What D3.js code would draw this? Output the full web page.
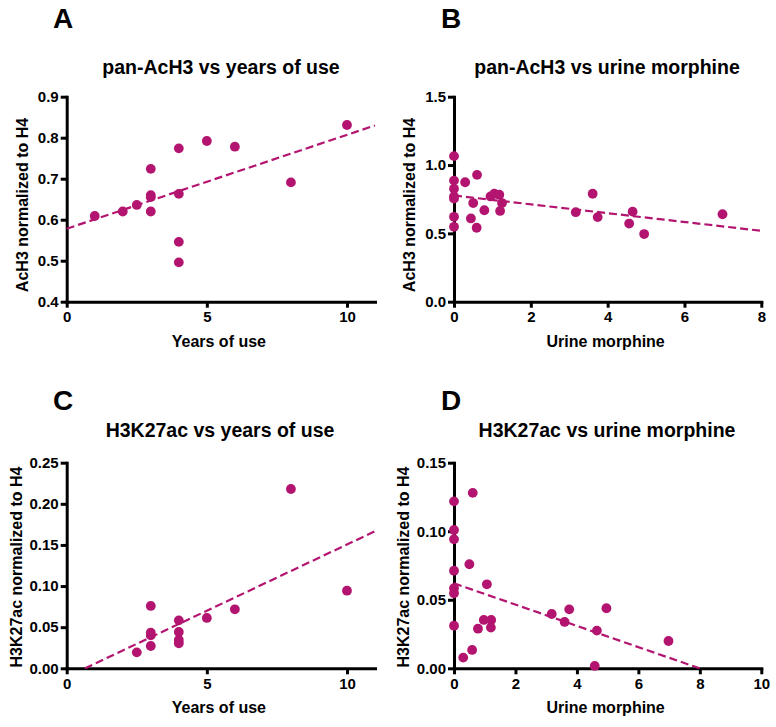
<!DOCTYPE html>
<html>
<head>
<meta charset="utf-8">
<script src="https://cdn.jsdelivr.net/npm/d3@7"></script>
<style>
  html, body { margin: 0; padding: 0; background: #fff; }
  svg { display: block; font-family: "Liberation Sans", Arial, sans-serif; }
  .tick text { font-weight: bold; font-size: 15px; fill: #000; }
</style>
</head>
<body>
<svg id="chart" width="776" height="727"></svg>
<script>
// ---------- DATA ----------
// Panel A: pan-AcH3 vs years of use
const yearsA = [1, 2, 2.5, 3, 3, 3, 3, 4, 4, 4, 4, 5, 6, 8, 10];
const acH3A  = [0.609, 0.620, 0.636, 0.724, 0.660, 0.655, 0.620, 0.774, 0.663, 0.546, 0.496, 0.792, 0.778, 0.691, 0.831];
const fitA   = [0.578, 0.0229];           // intercept, slope

// Panel B: pan-AcH3 vs urine morphine
const morphB = [0, 0, 0, 0, 0, 0, 0, 0.29, 0.60, 0.50, 0.44, 0.59, 0.79, 0.95, 1.05, 1.18, 1.25, 1.20, 3.17, 3.61, 3.74, 4.56, 4.65, 4.95, 6.99];
const acH3B  = [1.065, 0.886, 0.826, 0.770, 0.754, 0.621, 0.548, 0.874, 0.928, 0.722, 0.609, 0.541, 0.669, 0.770, 0.790, 0.783, 0.722, 0.664, 0.655, 0.790, 0.619, 0.572, 0.659, 0.495, 0.640];
const fitB   = [0.777, -0.0323];

// Panel C: H3K27ac vs years of use
const yearsC = [2.5, 3, 3, 3, 3, 4, 4, 4, 4, 5, 6, 8, 10];
const k27C   = [0.0194, 0.0271, 0.0400, 0.0434, 0.0758, 0.0304, 0.0344, 0.0442, 0.0583, 0.0612, 0.0717, 0.218, 0.0944];
const fitC   = [-0.0105, 0.0161];

// Panel D: H3K27ac vs urine morphine
const morphD = [0, 0, 0, 0, 0, 0, 0, 0.61, 0.50, 0.30, 0.59, 0.78, 0.97, 1.07, 1.21, 1.20, 3.18, 3.60, 3.75, 4.58, 4.65, 4.96, 6.98];
const k27D   = [0.1218, 0.1009, 0.0941, 0.0712, 0.0584, 0.0547, 0.0311, 0.128, 0.0759, 0.0078, 0.0134, 0.0289, 0.0353, 0.0613, 0.0353, 0.0297, 0.0396, 0.0338, 0.0430, 0.0017, 0.0275, 0.0438, 0.0199];
const fitD   = [0.062, -0.00776];

// Axis ticks
const xTicksYears = [0, 5, 10];
const xTicksMorphB = [0, 2, 4, 6, 8];
const xTicksMorphD = [0, 2, 4, 6, 8, 10];
const yTicksA = [0.4, 0.5, 0.6, 0.7, 0.8, 0.9];
const yTicksB = [0.0, 0.5, 1.0, 1.5];
const yTicksC = [0.00, 0.05, 0.10, 0.15, 0.20, 0.25];
const yTicksD = [0.00, 0.05, 0.10, 0.15];

// Texts
const panelLetters = ["A", "B", "C", "D"];
const panelTitles = ["pan-AcH3 vs years of use", "pan-AcH3 vs urine morphine", "H3K27ac vs years of use", "H3K27ac vs urine morphine"];
const xTitles = ["Years of use", "Urine morphine", "Years of use", "Urine morphine"];
const yTitles = ["AcH3 normalized to H4", "AcH3 normalized to H4", "H3K27ac normalized to H4", "H3K27ac normalized to H4"];

// ---------- DRAW ----------
const COLOR = "#b3146f";
const svg = d3.select("#chart");
svg.append("rect").attr("width", 776).attr("height", 727).attr("fill", "#fff");

const panels = [
  { xs: yearsA, ys: acH3A, fit: fitA, xDom: [0, 11], yDom: [0.4, 0.9], xT: xTicksYears, yT: yTicksA, xf: d3.format("d"), yf: d3.format(".1f"),
    left: 66.7, right: 375, top: 96.7, bottom: 301.7, letterX: 53, letterY: 28, titleX: 221, titleY: 74, yTitleX: 28, yTitleY: 205 },
  { xs: morphB, ys: acH3B, fit: fitB, xDom: [0, 8], yDom: [0, 1.5], xT: xTicksMorphB, yT: yTicksB, xf: d3.format("d"), yf: d3.format(".1f"),
    left: 454, right: 761.3, top: 96.7, bottom: 301.7, letterX: 441, letterY: 28, titleX: 607, titleY: 74, yTitleX: 415, yTitleY: 205 },
  { xs: yearsC, ys: k27C, fit: fitC, xDom: [0, 11], yDom: [0, 0.25], xT: xTicksYears, yT: yTicksC, xf: d3.format("d"), yf: d3.format(".2f"),
    left: 66.7, right: 375, top: 462.7, bottom: 668.3, letterX: 53, letterY: 410, titleX: 220, titleY: 437, yTitleX: 22, yTitleY: 567 },
  { xs: morphD, ys: k27D, fit: fitD, xDom: [0, 10], yDom: [0, 0.15], xT: xTicksMorphD, yT: yTicksD, xf: d3.format("d"), yf: d3.format(".2f"),
    left: 454, right: 761.3, top: 462.7, bottom: 668.3, letterX: 441, letterY: 410, titleX: 607, titleY: 437, yTitleX: 409, yTitleY: 567 }
];

panels.forEach((p, i) => {
  const g = svg.append("g");
  const x = d3.scaleLinear().domain(p.xDom).range([p.left, p.right]);
  const y = d3.scaleLinear().domain(p.yDom).range([p.bottom, p.top]);

  // letter
  g.append("text").attr("x", p.letterX).attr("y", p.letterY)
    .attr("font-size", 28).attr("font-weight", "bold").text(panelLetters[i]);
  // title
  g.append("text").attr("x", p.titleX).attr("y", p.titleY).attr("text-anchor", "middle")
    .attr("font-size", 19.5).attr("font-weight", "bold").text(panelTitles[i]);

  // axes
  const xAxis = d3.axisBottom(x).tickValues(p.xT).tickFormat(p.xf).tickSize(6).tickSizeOuter(0).tickPadding(4);
  const yAxis = d3.axisLeft(y).tickValues(p.yT).tickFormat(p.yf).tickSize(6).tickSizeOuter(0).tickPadding(2);
  const gx = g.append("g").attr("transform", `translate(0,${p.bottom})`).call(xAxis);
  const gy = g.append("g").attr("transform", `translate(${p.left},0)`).call(yAxis);
  [gx, gy].forEach(a => {
    a.select(".domain").attr("stroke", "#000").attr("stroke-width", 3).attr("stroke-linecap", "square");
    a.selectAll(".tick line").attr("stroke", "#000").attr("stroke-width", 3);
    a.selectAll(".tick text").attr("font-family", "Liberation Sans, Arial, sans-serif");
  });

  // axis titles
  g.append("text").attr("x", (p.left + p.right) / 2 - 2).attr("y", p.bottom + 45).attr("text-anchor", "middle")
    .attr("font-size", 16).attr("font-weight", "bold").text(xTitles[i]);
  g.append("text").attr("transform", `translate(${p.yTitleX},${p.yTitleY}) rotate(-90)`).attr("text-anchor", "middle")
    .attr("font-size", 16).attr("font-weight", "bold").text(yTitles[i]);

  // regression line, clipped to the plotting domain (y >= yDom[0], x in xDom)
  const [b0, b1] = p.fit;
  let xa = p.xDom[0], xb = p.xDom[1];
  const f = v => b0 + b1 * v;
  if (f(xa) < p.yDom[0]) xa = (p.yDom[0] - b0) / b1;
  if (f(xb) < p.yDom[0]) xb = (p.yDom[0] - b0) / b1;
  g.append("line")
    .attr("x1", x(xa)).attr("y1", y(f(xa)))
    .attr("x2", x(xb)).attr("y2", y(f(xb)))
    .attr("stroke", COLOR).attr("stroke-width", 2.2).attr("stroke-dasharray", "8,4");

  // points
  g.selectAll("circle").data(p.xs.map((v, k) => [v, p.ys[k]])).enter().append("circle")
    .attr("cx", d => x(d[0])).attr("cy", d => y(d[1])).attr("r", 4.9).attr("fill", COLOR);
});
</script>
</body>
</html>
